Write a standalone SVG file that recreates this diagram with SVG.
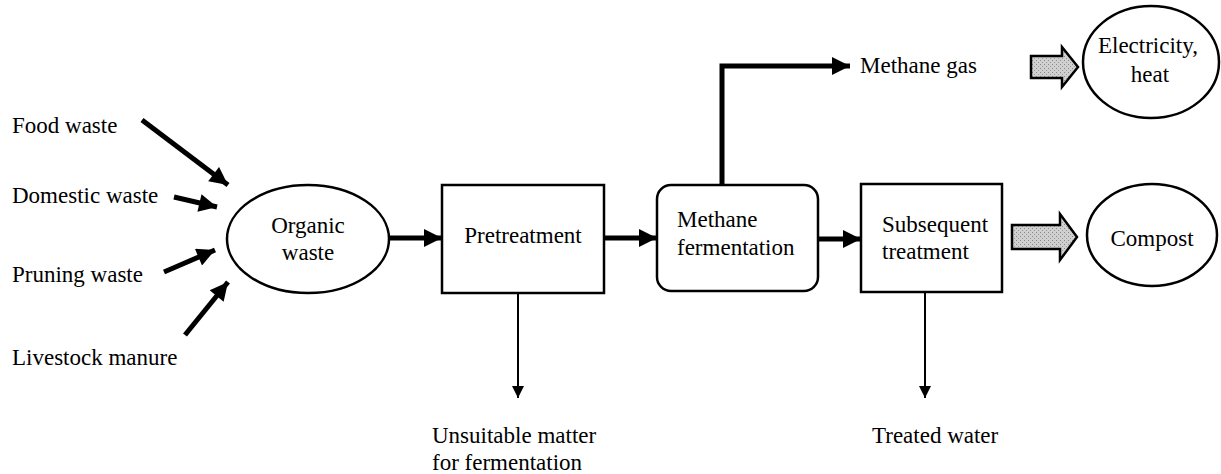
<svg xmlns="http://www.w3.org/2000/svg" width="1221" height="474" viewBox="0 0 1221 474">
<style>
text{font-family:'Liberation Serif','DejaVu Serif',serif;font-size:23px;fill:#000}
.mid{text-anchor:middle}
.shape{fill:#fff;stroke:#000;stroke-width:2.5}
.thick{stroke:#000;stroke-width:5;fill:none}
.thin{stroke:#000;stroke-width:2;fill:none}
.block{fill:url(#stip);stroke:#000;stroke-width:2.5;stroke-linejoin:miter}
</style>
<defs>
<marker id="hb" viewBox="0 0 10 10" refX="10" refY="5" markerWidth="4.2" markerHeight="3.6" orient="auto" markerUnits="strokeWidth">
<path d="M0,0 L10,5 L0,10 Z" fill="#000"/>
</marker>
<marker id="hs" viewBox="0 0 10 10" refX="10" refY="5" markerWidth="6" markerHeight="6" orient="auto" markerUnits="strokeWidth">
<path d="M0,0 L10,5 L0,10 Z" fill="#000"/>
</marker>
<pattern id="stip" width="4" height="4" patternUnits="userSpaceOnUse">
<rect width="4" height="4" fill="#d0d0d0"/>
<rect x="0" y="0" width="1" height="1" fill="#888"/>
<rect x="2" y="2" width="1" height="1" fill="#999"/>
</pattern>
</defs>

<g id="connectors">
<line class="thick" x1="142" y1="120" x2="228" y2="185" marker-end="url(#hb)"/>
<line class="thick" x1="174" y1="197" x2="217" y2="207" marker-end="url(#hb)"/>
<line class="thick" x1="164" y1="272" x2="215" y2="250" marker-end="url(#hb)"/>
<line class="thick" x1="185" y1="335" x2="228" y2="282" marker-end="url(#hb)"/>
<line class="thick" x1="389" y1="238" x2="442" y2="238" marker-end="url(#hb)"/>
<line class="thick" x1="604" y1="238" x2="657" y2="238" marker-end="url(#hb)"/>
<line class="thick" x1="818" y1="239" x2="861" y2="239" marker-end="url(#hb)"/>
<polyline class="thick" points="722,185 722,66 850,66" marker-end="url(#hb)"/>
<line class="thin" x1="518" y1="293" x2="518" y2="398" marker-end="url(#hs)"/>
<line class="thin" x1="925" y1="292" x2="925" y2="398" marker-end="url(#hs)"/>
<path class="block" d="M1031,56 L1062,56 L1062,47 L1078,67 L1062,87 L1062,78 L1031,78 Z"/>
<path class="block" d="M1012,225 L1060,225 L1060,214 L1077,237 L1060,260 L1060,249 L1012,249 Z"/>
</g>

<g id="food-waste"><text x="12" y="133">Food waste</text></g>
<g id="domestic-waste"><text x="12" y="203">Domestic waste</text></g>
<g id="pruning-waste"><text x="12" y="282">Pruning waste</text></g>
<g id="livestock-manure"><text x="12" y="365">Livestock manure</text></g>

<g id="organic-waste">
<ellipse class="shape" cx="308" cy="239" rx="81" ry="54"/>
<text class="mid" x="308" y="233">Organic</text>
<text class="mid" x="308" y="260">waste</text>
</g>

<g id="pretreatment">
<rect class="shape" x="442" y="185" width="162" height="108"/>
<text class="mid" x="523" y="243">Pretreatment</text>
</g>

<g id="methane-fermentation">
<rect class="shape" x="657" y="185" width="161" height="106" rx="14" ry="14"/>
<text x="677" y="227">Methane</text>
<text x="677" y="255">fermentation</text>
</g>

<g id="subsequent-treatment">
<rect class="shape" x="861" y="184" width="141" height="108"/>
<text x="882" y="232">Subsequent</text>
<text x="882" y="259">treatment</text>
</g>

<g id="methane-gas"><text x="860" y="73">Methane gas</text></g>

<g id="electricity-heat">
<ellipse class="shape" cx="1151" cy="62" rx="68" ry="56"/>
<text class="mid" x="1148" y="53">Electricity,</text>
<text class="mid" x="1150" y="82">heat</text>
</g>

<g id="compost">
<ellipse class="shape" cx="1152" cy="235" rx="65" ry="51"/>
<text class="mid" x="1152" y="246">Compost</text>
</g>

<g id="unsuitable-matter">
<text x="432" y="443">Unsuitable matter</text>
<text x="432" y="470">for fermentation</text>
</g>

<g id="treated-water"><text x="872" y="443">Treated water</text></g>
</svg>
